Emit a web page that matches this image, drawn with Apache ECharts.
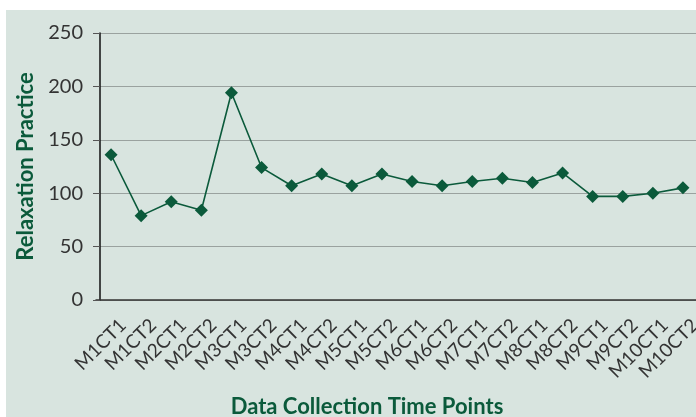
<!DOCTYPE html>
<html>
<head>
<meta charset="utf-8">
<script src="https://cdn.jsdelivr.net/npm/echarts@6/dist/echarts.min.js"></script>
<style>
  html, body { margin: 0; padding: 0; background: #fff; }
  #myChart { width: 696px; height: 417px; }
</style>
</head>
<body>
<div id="myChart"></div>
<script>
var categories = ['M1CT1', 'M1CT2', 'M2CT1', 'M2CT2', 'M3CT1', 'M3CT2', 'M4CT1', 'M4CT2', 'M5CT1', 'M5CT2',
	'M6CT1', 'M6CT2', 'M7CT1', 'M7CT2', 'M8CT1', 'M8CT2', 'M9CT1', 'M9CT2', 'M10CT1', 'M10CT2'];
var practice = [136, 79, 92, 84, 194, 124, 107, 118, 107, 118,
	111, 107, 111, 114, 110, 119, 97, 97, 100, 105];
var yTicks = [0, 50, 100, 150, 200, 250];

window.onload = function () {
	'use strict';

	var green = '#0b5a3b';
	var font = 'Lato, "Open Sans", sans-serif';

	var option = {
		animation: false,
		backgroundColor: '#fff',
		graphic: [
			{ // panel behind the plot
				type: 'rect',
				left: 6,
				top: 10,
				z: -10,
				silent: true,
				shape: { width: 690, height: 407 },
				style: { fill: '#d8e4df' }
			}
		],
		grid: {
			left: 96,
			top: 33,
			width: 602,
			height: 267,
			outerBoundsMode: 'none',
			containLabel: false
		},
		xAxis: {
			type: 'category',
			data: categories,
			boundaryGap: true,
			name: 'Data Collection Time Points',
			nameLocation: 'middle',
			nameGap: 96,
			nameMoveOverlap: false,
			nameTextStyle: {
				color: green,
				fontFamily: font,
				fontWeight: 'bold',
				fontSize: 22,
				padding: [0, 60, 0, 0]
			},
			axisLine: { lineStyle: { color: '#333', width: 1.5 } },
			axisTick: { alignWithLabel: false, length: 7, lineStyle: { color: '#333' } },
			axisLabel: {
				rotate: 45,
				interval: 0,
				margin: 10,
				verticalAlign: 'top',
				lineHeight: 34,
				color: '#333',
				fontFamily: font,
				fontSize: 19
			},
			splitLine: { show: false }
		},
		yAxis: {
			type: 'value',
			min: yTicks[0],
			max: yTicks[yTicks.length - 1],
			interval: 50,
			offset: -4,
			name: 'Relaxation Practice',
			nameLocation: 'middle',
			nameGap: 57,
			nameTextStyle: {
				color: green,
				fontFamily: font,
				fontWeight: 'bold',
				fontSize: 22
			},
			axisLine: { show: true, lineStyle: { color: '#111', width: 1.5 } },
			axisTick: { show: true, inside: false, length: 7, lineStyle: { color: '#555' } },
			axisLabel: {
				margin: 17,
				color: '#333',
				fontFamily: font,
				fontSize: 20
			},
			splitLine: { lineStyle: { color: '#9aa29f', width: 1.2 } }
		},
		series: [
			{
				type: 'line',
				data: practice,
				symbol: 'diamond',
				symbolSize: 13,
				itemStyle: { color: green },
				lineStyle: { color: green, width: 1.6 }
			}
		]
	};

	var myChart = echarts.init(document.getElementById('myChart'));
	myChart.setOption(option);
};
</script>
</body>
</html>
